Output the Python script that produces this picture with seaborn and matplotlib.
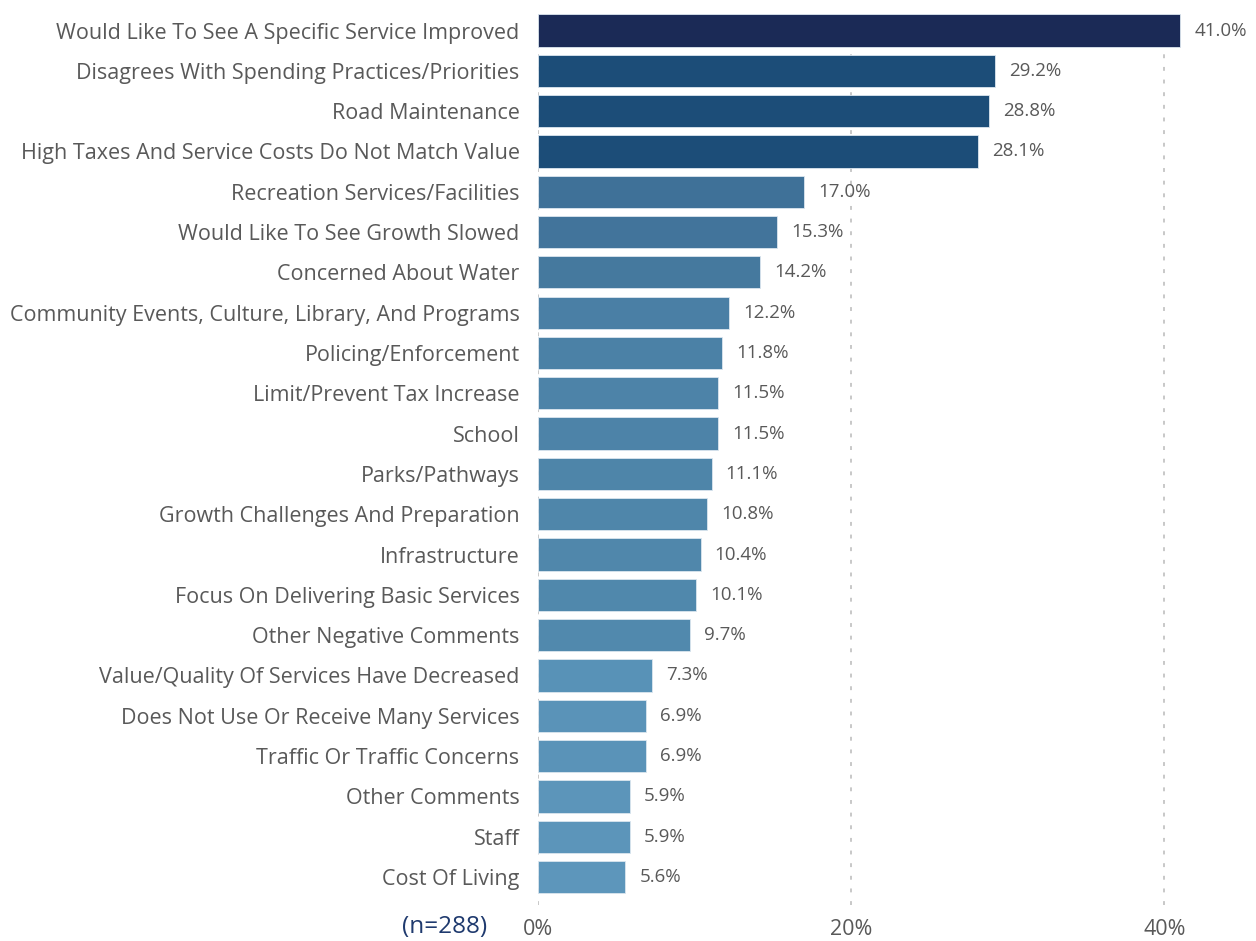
import pandas as pd
import seaborn as sns
import matplotlib.pyplot as plt
import matplotlib.ticker as mticker

categorias = [
    'Would Like To See A Specific Service Improved',
    'Disagrees With Spending Practices/Priorities',
    'Road Maintenance',
    'High Taxes And Service Costs Do Not Match Value',
    'Recreation Services/Facilities',
    'Would Like To See Growth Slowed',
    'Concerned About Water',
    'Community Events, Culture, Library, And Programs',
    'Policing/Enforcement',
    'Limit/Prevent Tax Increase',
    'School',
    'Parks/Pathways',
    'Growth Challenges And Preparation',
    'Infrastructure',
    'Focus On Delivering Basic Services',
    'Other Negative Comments',
    'Value/Quality Of Services Have Decreased',
    'Does Not Use Or Receive Many Services',
    'Traffic Or Traffic Concerns',
    'Other Comments',
    'Staff',
    'Cost Of Living',
]
porcentajes = [41.0, 29.2, 28.8, 28.1, 17.0, 15.3, 14.2, 12.2, 11.8, 11.5, 11.5,
               11.1, 10.8, 10.4, 10.1, 9.7, 7.3, 6.9, 6.9, 5.9, 5.9, 5.6]
colores = ['#1b2a56', '#1c4d78', '#1c4d78', '#1c4d78', '#3f7198', '#42749b',
           '#45799e', '#4a7fa5', '#4b81a6', '#4d83a8', '#4d83a8', '#4e85a9',
           '#4f86aa', '#5087ab', '#5088ac', '#5189ad', '#5892b7', '#5a93b8',
           '#5a93b8', '#5c95ba', '#5c95ba', '#5d96bb']
n_total = 288

df = pd.DataFrame({'Categoria': categorias, 'Porcentaje': [p / 100 for p in porcentajes]})

sns.set_style('white')
plt.rcParams['font.family'] = ['Open Sans', 'DejaVu Sans']

fig = plt.figure(figsize=(12.56, 9.41), dpi=100)
ax = fig.add_axes([0.428, 0.038, 0.524, 0.951])

sns.barplot(data=df, x='Porcentaje', y='Categoria', hue='Categoria',
            palette=dict(zip(categorias, colores)), legend=False, saturation=1,
            width=0.8, edgecolor='#dbe6ef', linewidth=0.6, ax=ax, zorder=2)

ax.set_xlim(0, 0.42)
ax.set_ylim(21.7, -0.5)
ax.xaxis.set_major_locator(mticker.MultipleLocator(0.2))
ax.xaxis.set_major_formatter(mticker.PercentFormatter(1.0, decimals=0))
ax.grid(axis='x', color='#c8c8c8', linestyle=(0, (2, 4.5)), linewidth=1.4, zorder=0)
ax.grid(axis='y', visible=False)
for s in ax.spines.values():
    s.set_visible(False)
ax.tick_params(axis='both', length=0, labelcolor='#595959', labelsize=15.5)
ax.tick_params(axis='y', pad=13)
ax.tick_params(axis='x', pad=10)
ax.set_xlabel('')
ax.set_ylabel('')

# etiquetas de valor al final de cada barra
for i, p in enumerate(porcentajes):
    ax.text(p / 100 + 0.009, i, f'{p:.1f}%', ha='left', va='center',
            fontsize=13.5, color='#595959')

fig.text(0.388, 0.015, f'(n={n_total})', ha='right', va='center',
         fontsize=17.5, color='#1f3a6e')

fig.savefig('out.png', dpi=100)
